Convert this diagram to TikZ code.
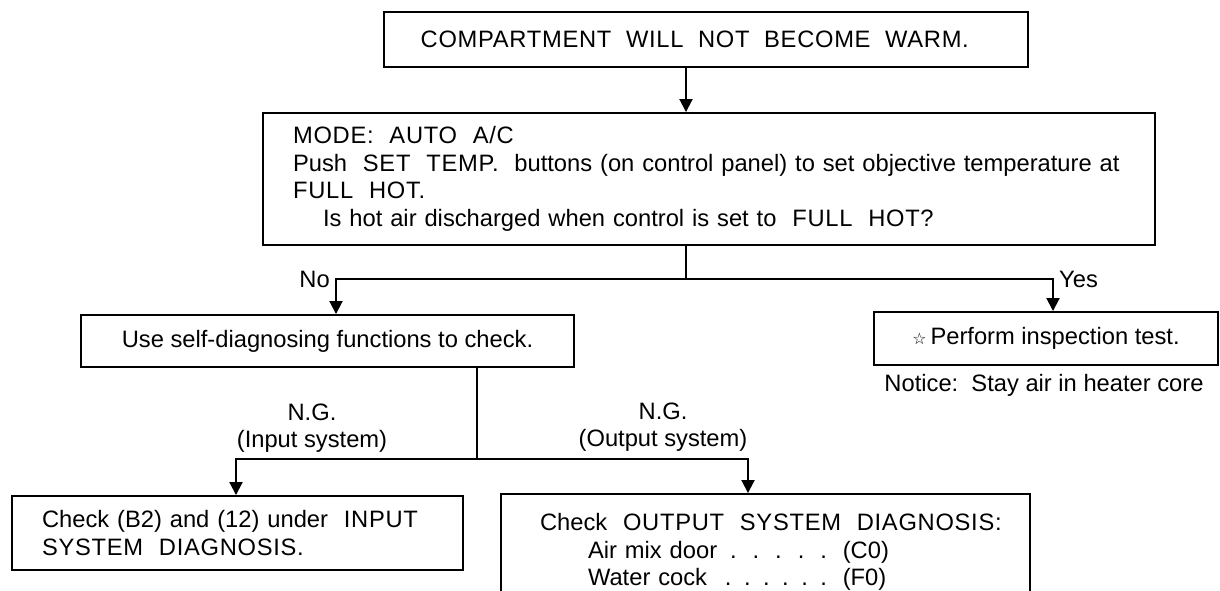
\documentclass[tikz,border=0pt]{standalone}
\usepackage{fontspec}
\setmainfont{Liberation Sans}
\newfontfamily\symfont{DejaVu Sans}
\usetikzlibrary{arrows.meta}
\newcommand{\spc}[1]{{\addfontfeature{LetterSpace=3}#1}}

\begin{document}
\begin{tikzpicture}[
    x=0.02cm, y=-0.02cm,
    font=\fontsize{13.5}{15.7}\selectfont,
    box/.style={draw, line width=1.1pt, inner sep=0pt},
    textbox/.style={box, align=left, inner xsep=0.6cm},
    lbl/.style={align=center, inner sep=2pt},
    arrow/.style={-{Triangle[length=0.26cm,width=0.26cm]}, line width=1.1pt},
    line/.style={line width=1.1pt}
  ]
    \path[use as bounding box, clip] (0,0) rectangle (1220,591);

    \node[box, minimum width=12.88cm, minimum height=1.1cm] (complaint) at (706,39.5) {\spc{COMPARTMENT\ \ WILL\ \ NOT\ \ BECOME\ \ WARM.}\hspace*{0.45cm}};
    \node[textbox, minimum width=17.84cm, minimum height=2.64cm, text width=16.64cm] (mode) at (709,179) {\spc{MODE:\ \ AUTO\ \ A/C}\\Push\ \ \spc{SET\ \ TEMP.}\ \ buttons (on control panel) to set objective temperature at\\\spc{FULL\ \ HOT.}\\\hspace*{0.6cm}Is hot air discharged when control is set to\ \ \spc{FULL\ \ HOT?}};
    \node[box, minimum width=9.86cm, minimum height=1.04cm] (selfdiag) at (327.5,341) {Use self-diagnosing functions to check.};
    \node[box, minimum width=6.88cm, minimum height=1.06cm] (inspect) at (1046,338.5) {{\symfont\small ☆}\,Perform inspection test.};
    \node (notice) at (1044,385) {Notice:\ \ Stay air in heater core};
    \node[textbox, minimum width=9.02cm, minimum height=1.48cm, text width=7.82cm] (inputchk) at (237.5,533) {Check (B2) and (12) under\ \ \spc{INPUT}\\\spc{SYSTEM\ \ DIAGNOSIS.}};
    \node[textbox, inner xsep=0.1cm, minimum width=10.58cm, minimum height=2.32cm, text width=10.38cm] (outputchk) at (765.5,552) {\hspace*{0.68cm}Check\ \ \spc{OUTPUT\ \ SYSTEM\ \ DIAGNOSIS:}\\\hspace*{1.64cm}\makebox[4.78cm][l]{Air mix door\hfill.\hspace{0.32cm}.\hspace{0.32cm}.\hspace{0.32cm}.\hspace{0.32cm}.}\ \ (C0)\\\hspace*{1.64cm}\makebox[4.78cm][l]{Water cock\hfill.\hspace{0.25cm}.\hspace{0.25cm}.\hspace{0.25cm}.\hspace{0.25cm}.\hspace{0.25cm}.}\ \ (F0)};

    \coordinate (fork1) at (686,279);
    \coordinate (nojoin) at (336,279);
    \coordinate (yesjoin) at (1053,279);
    \coordinate (fork2) at (477,459);
    \coordinate (injoin) at (236,459);
    \coordinate (outjoin) at (748,459);

    \draw[arrow] (complaint.south -| fork1) -- (mode.north -| fork1);
    \draw[line] (mode.south -| fork1) -- (fork1);
    \draw[arrow] (fork1) -| (selfdiag.north -| nojoin);
    \draw[arrow] (fork1) -| (inspect.north -| yesjoin);
    \draw[line] (selfdiag.south -| fork2) -- (fork2);
    \draw[arrow] (fork2) -| (inputchk.north -| injoin);
    \draw[arrow] (fork2) -| (outputchk.north -| outjoin);

    \node[anchor=east] (nolbl) at (nojoin) {No};
    \node[anchor=west] (yeslbl) at (yesjoin) {Yes};
    \node[lbl] (ngin) at (312,428) {N.G.\\(Input system)};
    \node[lbl] (ngout) at (663,427) {N.G.\\(Output system)};
  \end{tikzpicture}
\end{document}
